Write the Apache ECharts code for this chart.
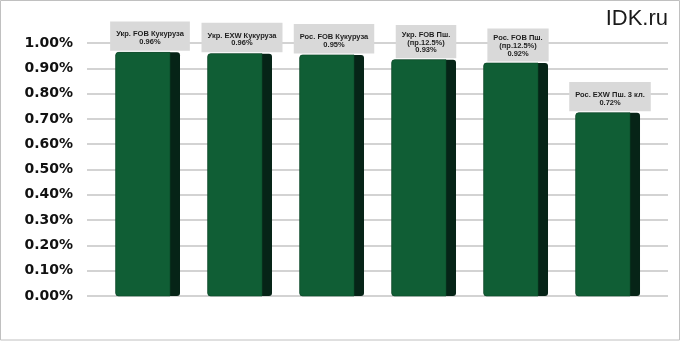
<!DOCTYPE html>
<html>
<head>
<meta charset="utf-8">
<script src="https://cdn.jsdelivr.net/npm/echarts@6/dist/echarts.min.js"></script>
<style>
html,body{margin:0;padding:0;background:#fff;}
#chart{width:681px;height:341px;}
</style>
</head>
<body>
<div id="chart"></div>
<script>
// Data
const categories = ['Укр. FOB Кукуруза', 'Укр. EXW Кукуруза', 'Рос. FOB Кукуруза', 'Укр. FOB Пш.\n(пр.12.5%)', 'Рос. FOB Пш.\n(пр.12.5%)', 'Рос. EXW Пш. 3 кл.'];
const values = [0.963, 0.958, 0.953, 0.934, 0.921, 0.724];
const yTicks = [0, 0.1, 0.2, 0.3, 0.4, 0.5, 0.6, 0.7, 0.8, 0.9, 1.0];

const chart = echarts.init(document.getElementById('chart'), null, {renderer: 'canvas'});

const seriesData = values.map((v, i) => [i, v]);

function renderItem(params, api) {
  const idx = params.dataIndex;
  const x = api.value(0), v = api.value(1);
  const top = api.coord([x, v]);
  const base = api.coord([x, 0]);
  const c = top[0];
  const h = base[1] - top[1];
  const lines = categories[idx].split('\n').length + 1;
  const pad = lines === 2 ? [9, 6, 5, 6] : [6, 6, 4, 6];
  return {
    type: 'group',
    children: [
      {type: 'rect', shape: {x: c - 32.3, y: top[1], width: 64.3, height: h, r: 3},
       style: {fill: '#062417'}},
      {type: 'rect', shape: {x: c - 32.3, y: top[1], width: 54.3, height: h, r: [3, 0, 0, 3]},
       style: {fill: '#105e35', stroke: '#0b4a29', lineWidth: 0.6}},
      {type: 'text', x: c + 2, y: top[1] - 1.5,
       style: {
         text: categories[idx] + '\n' + v.toFixed(2) + '%',
         fill: '#1e1e1e',
         font: 'bold 7.5px Arial, "Liberation Sans", sans-serif',
         lineHeight: 7.7,
         align: 'center', verticalAlign: 'bottom',
         backgroundColor: '#d9d9d9',
         padding: pad
       }}
    ]
  };
}

chart.setOption({
  animation: false,
  backgroundColor: '#fff',
  grid: {left: 87, right: 13, top: 43, bottom: 45, containLabel: false},
  xAxis: {
    type: 'value', min: -0.663, max: 5.652, show: false
  },
  yAxis: {
    type: 'value', min: 0, max: 1.0, interval: 0.1,
    axisLine: {show: false}, axisTick: {show: false},
    splitLine: {show: true, lineStyle: {color: '#c4c4c4', width: 1.5}},
    axisLabel: {
      margin: 14,
      color: '#111',
      fontFamily: '"DejaVu Sans", Verdana, sans-serif',
      fontWeight: 'bold',
      fontSize: 14,
      formatter: v => v.toFixed(2) + '%'
    }
  },
  graphic: [
    {type: 'rect', shape: {x: 0.5, y: 0.5, width: 679, height: 339.5},
     style: {fill: 'none', stroke: '#c0c0c0', lineWidth: 1}, z: 100},
    {type: 'text', right: 13, top: 8,
     style: {text: 'IDK.ru', font: '22px Arial, "Liberation Sans", sans-serif', fill: '#1a1a1a'}}
  ],
  series: [{
    type: 'custom',
    renderItem: renderItem,
    encode: {x: 0, y: 1},
    data: seriesData,
    clip: false
  }]
});
</script>
</body>
</html>
